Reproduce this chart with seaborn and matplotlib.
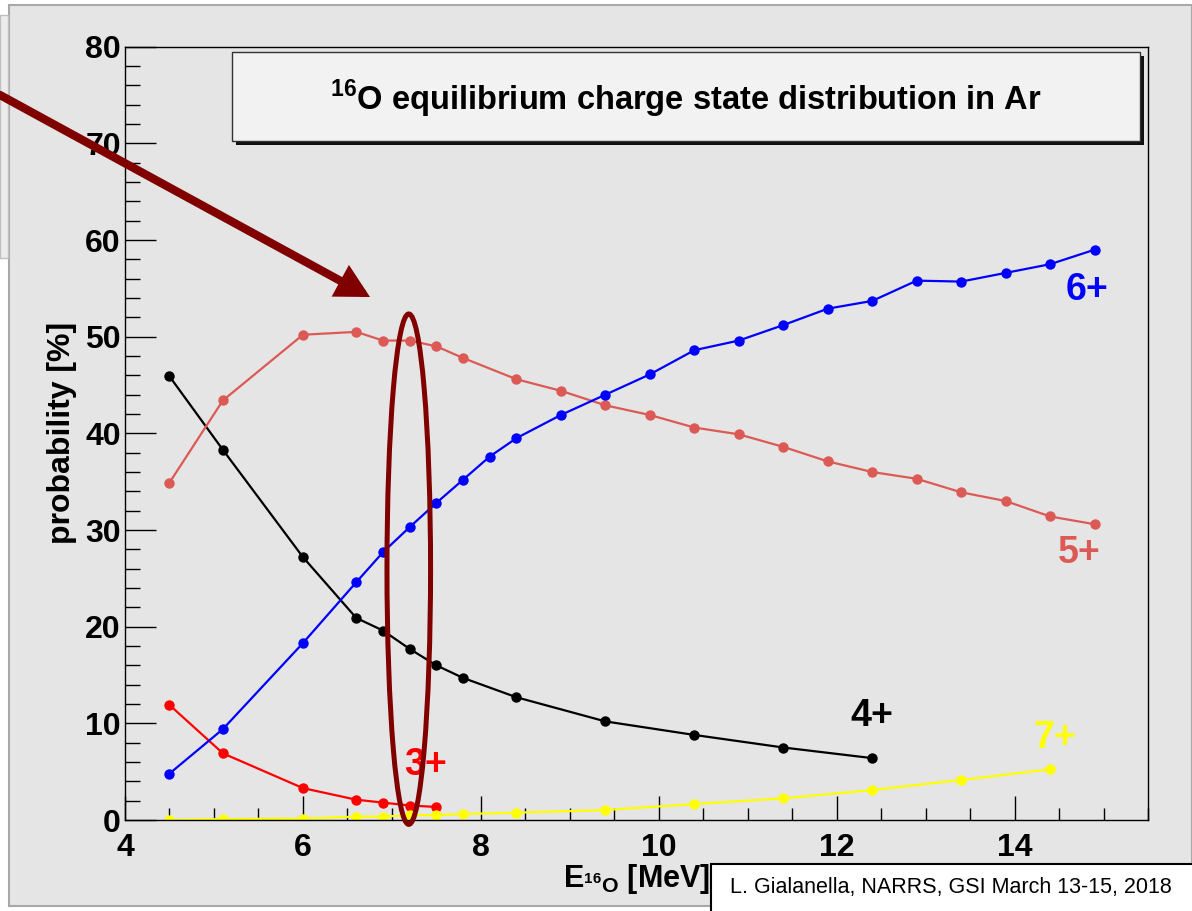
import numpy as np
import pandas as pd
import matplotlib
matplotlib.use("Agg")
import matplotlib.pyplot as plt
import seaborn as sns
from matplotlib.patches import Rectangle, Ellipse, FancyArrowPatch
from matplotlib.ticker import MultipleLocator

# ---------------- data ----------------
E_3 = [4.5, 5.1, 6.0, 6.6, 6.9, 7.2, 7.5]
p_3 = [11.9, 6.9, 3.3, 2.1, 1.8, 1.5, 1.35]

E_4 = [4.5, 5.1, 6.0, 6.6, 6.9, 7.2, 7.5, 7.8, 8.4, 9.4, 10.4, 11.4, 12.4]
p_4 = [45.9, 38.3, 27.2, 20.9, 19.6, 17.7, 16.0, 14.7, 12.7, 10.2, 8.8, 7.5, 6.4]

E_5 = [4.5, 5.1, 6.0, 6.6, 6.9, 7.2, 7.5, 7.8, 8.4, 8.9, 9.4, 9.9, 10.4, 10.9,
       11.4, 11.9, 12.4, 12.9, 13.4, 13.9, 14.4, 14.9]
p_5 = [34.9, 43.4, 50.2, 50.5, 49.6, 49.6, 49.0, 47.8, 45.6, 44.4, 42.9, 41.9,
       40.6, 39.9, 38.6, 37.1, 36.0, 35.3, 33.9, 33.0, 31.4, 30.6]

E_6 = [4.5, 5.1, 6.0, 6.6, 6.9, 7.2, 7.5, 7.8, 8.1, 8.4, 8.9, 9.4, 9.9, 10.4,
       10.9, 11.4, 11.9, 12.4, 12.9, 13.4, 13.9, 14.4, 14.9]
p_6 = [4.8, 9.4, 18.3, 24.6, 27.7, 30.3, 32.8, 35.2, 37.6, 39.5, 41.9, 44.0,
       46.1, 48.6, 49.6, 51.2, 52.9, 53.7, 55.8, 55.7, 56.6, 57.5, 59.0]

E_7 = [4.5, 5.1, 6.0, 6.6, 6.9, 7.2, 7.5, 7.8, 8.4, 9.4, 10.4, 11.4, 12.4, 13.4, 14.4]
p_7 = [0.0, 0.1, 0.14, 0.35, 0.35, 0.5, 0.5, 0.62, 0.76, 1.03, 1.65, 2.24, 3.1, 4.14, 5.24]

charge_states = ["3+", "4+", "5+", "6+", "7+"]
state_colors = ["#ff0000", "#000000", "#dc5a55", "#0000ff", "#ffff00"]
label_E = [7.38, 12.40, 14.73, 14.81, 14.45]
label_p = [5.7, 10.8, 27.6, 54.8, 8.5]

title_text = r"$^{\mathbf{16}}$O equilibrium charge state distribution in Ar"
xlabel_text = r"$\mathbf{E}_{^{\mathbf{16}}\mathbf{O}}$ [MeV]"
ylabel_text = "probability [%]"
footer_text = "L. Gialanella, NARRS, GSI March 13-15, 2018"

# ---------------- frame ----------------
frames = []
for st, E, p in zip(charge_states, [E_3, E_4, E_5, E_6, E_7], [p_3, p_4, p_5, p_6, p_7]):
    frames.append(pd.DataFrame({"E": E, "p": p, "state": st}))
df = pd.concat(frames, ignore_index=True)
palette = dict(zip(charge_states, state_colors))

sns.set_theme(style="ticks")
plt.rcParams["font.family"] = ["Liberation Sans", "DejaVu Sans"]
plt.rcParams["mathtext.fontset"] = "custom"
plt.rcParams["mathtext.rm"] = "Liberation Sans"
plt.rcParams["mathtext.bf"] = "Liberation Sans:bold"
for k in ["text.color", "axes.labelcolor", "xtick.color", "ytick.color", "axes.edgecolor"]:
    plt.rcParams[k] = "black"

W, H = 1192, 911
fig = plt.figure(figsize=(W / 100, H / 100), dpi=100, facecolor="white")
bg = "#e5e5e5"
# slide panel
fig.add_artist(Rectangle((9 / W, 1 - 906 / H), (W - 9) / W, (906 - 5) / H,
                         transform=fig.transFigure, facecolor=bg,
                         edgecolor="#a8a8a8", lw=1.5, zorder=0))
fig.add_artist(Rectangle((0, 1 - 258 / H), 8 / W, (258 - 15) / H,
                         transform=fig.transFigure, facecolor="#ececec",
                         edgecolor="#c0c0c0", lw=1, zorder=0))

ax = fig.add_axes([125 / W, 1 - 820 / H, (1148 - 125) / W, (820 - 46.7) / H])
ax.set_facecolor(bg)

sns.lineplot(data=df, x="E", y="p", hue="state", palette=palette, ax=ax,
             marker="o", markersize=7.5, markeredgewidth=0, linewidth=1.6,
             legend=False, sort=True, estimator=None)

ax.set_xlim(4, 15.5)
ax.set_ylim(0, 80)
ax.xaxis.set_major_locator(MultipleLocator(2))
ax.xaxis.set_minor_locator(MultipleLocator(0.5))
ax.yaxis.set_major_locator(MultipleLocator(10))
ax.yaxis.set_minor_locator(MultipleLocator(2))
ax.tick_params(axis="both", which="both", direction="in", top=False, right=False,
               colors="black", width=1.0)
ax.tick_params(axis="y", which="major", length=22, pad=3)
ax.tick_params(axis="y", which="minor", length=11)
ax.tick_params(axis="x", which="major", length=17, pad=9)
ax.tick_params(axis="x", which="minor", length=8.5)
for lab in ax.get_xticklabels() + ax.get_yticklabels():
    lab.set_fontsize(23)
    lab.set_fontweight("bold")
    lab.set_color("black")
for s in ax.spines.values():
    s.set_color("black")
    s.set_linewidth(1.0)

ax.set_xlabel(xlabel_text, fontsize=22, fontweight="bold", labelpad=0, color="black")
ax.set_ylabel(ylabel_text, fontsize=23, fontweight="bold", labelpad=6, color="black")

# charge state labels
for st, c, x, y in zip(charge_states, state_colors, label_E, label_p):
    ax.text(x, y, st, color=c, fontsize=27, fontweight="bold", ha="center",
            va="center", zorder=5)

# highlight ellipse
ax.add_patch(Ellipse((7.19, 25.95), 0.49, 52.8, facecolor="none",
                     edgecolor="#800000", lw=3.6, clip_on=False, zorder=6))

# title box with shadow
bx0, by0, bx1, by1 = 232, 52, 1140, 141
fig.add_artist(Rectangle(((bx0 + 4) / W, 1 - (by1 + 4) / H), (bx1 - bx0) / W, (by1 - by0) / H,
                         transform=fig.transFigure, facecolor="#111111",
                         edgecolor="none", zorder=3))
fig.add_artist(Rectangle((bx0 / W, 1 - by1 / H), (bx1 - bx0) / W, (by1 - by0) / H,
                         transform=fig.transFigure, facecolor="#f2f2f2",
                         edgecolor="#333333", lw=1, zorder=4))
fig.text((bx0 + bx1) / 2 / W, 1 - 99 / H, title_text, fontsize=23.5,
         fontweight="bold", ha="center", va="center", color="black", zorder=5)

# footer box
fig.add_artist(Rectangle((711 / W, 1 - 920 / H), (W - 711 + 10) / W, (920 - 864) / H,
                         transform=fig.transFigure, facecolor="white",
                         edgecolor="black", lw=1.5, zorder=7))
fig.text(730 / W, 1 - 888 / H, footer_text, fontsize=15.5, color="black",
         family=["Liberation Sans Narrow", "Liberation Sans", "DejaVu Sans"],
         ha="left", va="center", zorder=8)

# arrow
arr = FancyArrowPatch((0 / W, 1 - 95 / H), (370 / W, 1 - 297 / H),
                      transform=fig.transFigure,
                      arrowstyle="-|>,head_length=0.75,head_width=0.4",
                      mutation_scale=20, color="#800000", lw=6, zorder=9,
                      shrinkA=0, shrinkB=0, joinstyle="miter")
fig.add_artist(arr)

fig.savefig("out.png", dpi=100, facecolor=fig.get_facecolor())
